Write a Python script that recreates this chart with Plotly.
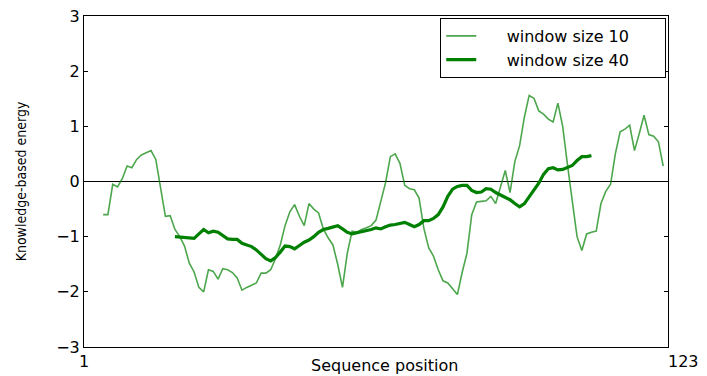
import plotly.graph_objects as go

# Smoothed knowledge-based energy profiles along the sequence
pos_w10 = list(range(5, 123))
energy_w10 = [
    -0.60, -0.60, -0.05, -0.10, 0.05, 0.28, 0.25, 0.40, 0.48, 0.52,
    0.56, 0.40, -0.15, -0.63, -0.62, -0.87, -1.00, -1.17, -1.48, -1.64,
    -1.92, -2.00, -1.60, -1.63, -1.77, -1.58, -1.60, -1.65, -1.75, -1.97,
    -1.92, -1.88, -1.84, -1.66, -1.66, -1.60, -1.40, -1.15, -0.80, -0.55,
    -0.42, -0.63, -0.80, -0.40, -0.50, -0.57, -0.86, -1.02, -1.15, -1.50,
    -1.92, -1.30, -0.90, -0.92, -0.87, -0.84, -0.80, -0.70, -0.35, -0.02,
    0.45, 0.50, 0.33, -0.07, -0.13, -0.15, -0.30, -0.85, -1.20, -1.35,
    -1.60, -1.80, -1.84, -1.95, -2.05, -1.65, -1.30, -0.60, -0.37, -0.36,
    -0.35, -0.27, -0.40, -0.10, 0.20, -0.20, 0.36, 0.65, 1.17, 1.56,
    1.51, 1.28, 1.22, 1.13, 1.08, 1.42, 1.00, 0.30, -0.40, -1.00,
    -1.25, -0.95, -0.92, -0.90, -0.40, -0.18, -0.05, 0.50, 0.90, 0.95,
    1.02, 0.56, 0.87, 1.20, 0.85, 0.82, 0.72, 0.28,
]

pos_w40 = list(range(20, 108))
energy_w40 = [
    -1.00, -1.01, -1.01, -1.02, -1.03, -0.95, -0.87, -0.93, -0.90, -0.92,
    -0.98, -1.04, -1.05, -1.05, -1.12, -1.15, -1.18, -1.24, -1.32, -1.40,
    -1.44, -1.38, -1.28, -1.17, -1.18, -1.22, -1.16, -1.10, -1.06, -1.00,
    -0.92, -0.87, -0.85, -0.83, -0.80, -0.86, -0.92, -0.95, -0.93, -0.92,
    -0.89, -0.87, -0.84, -0.86, -0.82, -0.79, -0.78, -0.76, -0.74, -0.78,
    -0.82, -0.78, -0.71, -0.71, -0.67, -0.60, -0.46, -0.27, -0.14, -0.09,
    -0.07, -0.07, -0.16, -0.20, -0.19, -0.13, -0.14, -0.20, -0.24, -0.29,
    -0.33, -0.40, -0.46, -0.40, -0.28, -0.17, -0.03, 0.13, 0.23, 0.25,
    0.21, 0.22, 0.25, 0.29, 0.38, 0.45, 0.45, 0.47,
]

x_ticks = [1, 123]
x_tick_text = ["1", "\u00a0\u00a0\u00a0\u00a0\u00a0\u00a0123"]
y_ticks = [-3, -2, -1, 0, 1, 2, 3]
y_tick_text = ["\u22123", "\u22122", "\u22121", "0", "1", "2", "3"]

NB = "\u00a0"
legend_names = [NB * 5 + "window size 10" + NB * 6,
                NB * 5 + "window size 40" + NB * 6]

fig = go.Figure()
fig.add_trace(go.Scatter(
    x=pos_w10, y=energy_w10, mode="lines", name=legend_names[0],
    line=dict(color="rgba(0,128,0,0.7)", width=1.6),
))
fig.add_trace(go.Scatter(
    x=pos_w40, y=energy_w40, mode="lines", name=legend_names[1],
    line=dict(color="rgb(0,128,0)", width=3.2),
))

fig.add_annotation(
    text="Sequence position", xref="paper", yref="paper",
    x=0.515, y=-0.055, xanchor="center", yanchor="middle", showarrow=False,
    borderpad=0,
    font=dict(family="DejaVu Sans", size=16, color="black"),
)

fig.update_layout(
    width=707, height=376,
    margin=dict(l=84, r=39, t=16, b=29),
    paper_bgcolor="white", plot_bgcolor="white",
    font=dict(family="DejaVu Sans", size=16, color="black"),
    showlegend=True,
    legend=dict(
        x=0.997, y=0.994, xanchor="right", yanchor="top",
        bordercolor="black", borderwidth=1, bgcolor="white",
        font=dict(family="DejaVu Sans", size=16),
        tracegroupgap=0, itemwidth=30,
    ),
    xaxis=dict(
        range=[1, 123], tickvals=x_ticks, ticktext=x_tick_text,
        ticks="inside", ticklen=4, tickcolor="black",
        showline=True, linecolor="black", linewidth=1, mirror="ticks",
        showgrid=False, zeroline=False, automargin=False,
        tickfont=dict(size=16),
    ),
    yaxis=dict(
        range=[-3, 3], tickvals=y_ticks, ticktext=y_tick_text,
        ticks="inside", ticklen=4, tickcolor="black",
        showline=True, linecolor="black", linewidth=1, mirror="ticks",
        showgrid=False, zeroline=True, zerolinecolor="black", zerolinewidth=1,
        automargin=False, tickfont=dict(size=16),
        title=dict(text="Knowledge-based energy", standoff=26,
                   font=dict(family="Liberation Sans Narrow, DejaVu Sans Condensed, sans-serif",
                             size=14)),
    ),
)

fig.write_html("out.html")
